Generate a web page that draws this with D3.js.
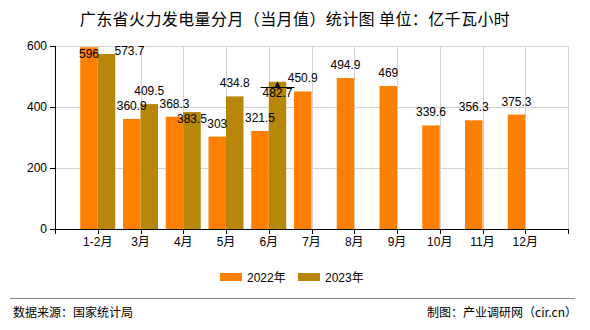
<!DOCTYPE html>
<html><head><meta charset="utf-8">
<script src="https://cdn.jsdelivr.net/npm/d3@7"></script>
<style>body{margin:0;background:#fff}svg{display:block}</style>
</head><body>
<script>
const categories = ["1-2月","3月","4月","5月","6月","7月","8月","9月","10月","11月","12月"];
const series2022 = [596,360.9,368.3,303,321.5,450.9,494.9,469,339.6,356.3,375.3];
const series2023 = [573.7,409.5,383.5,434.8,482.7,null,null,null,null,null,null];
const yTicks = [0,200,400,600];
const seriesNames = ["2022年","2023年"];
const colors = ["#FF8000","#B8860B"];

// label placement tweaks (style, not data), keyed "categoryIndex-seriesIndex": [dx, dy]
const labelShift = {
  "0-0":[0,20], "0-1":[23,10], "2-1":[0,20], "4-1":[0,24]
};

const W=590,H=330, L=55, R=568, T=46, B=229;
const svg = d3.select("body").append("svg").attr("width",W).attr("height",H)
  .style("font-family","'Liberation Sans',Arial,'Noto Sans CJK SC',sans-serif");

const x = d3.scaleLinear().domain([0,categories.length+1]).range([L,R]);
const y = d3.scaleLinear().domain([0,600]).range([B,T]);
const bw = 17.5;

// title
svg.append("text").attr("x",295).attr("y",25).attr("text-anchor","middle")
  .style("font-family","'Noto Sans CJK SC',sans-serif").style("font-size","16px")
  .style("letter-spacing","0.4px").attr("fill","#000")
  .text("广东省火力发电量分月（当月值）统计图 单位：亿千瓦小时");

// grid
const g = svg.append("g");
g.selectAll(".hg").data(yTicks.filter(d=>d>0)).join("line")
  .attr("x1",L).attr("x2",R).attr("y1",d=>Math.round(y(d))+0.5).attr("y2",d=>Math.round(y(d))+0.5)
  .attr("stroke","#d3d3d3").attr("stroke-width",1);
const vpos = d3.range(1,categories.length+2);
g.selectAll(".vg").data(vpos).join("line")
  .attr("x1",d=>Math.round(x(d))+0.5).attr("x2",d=>Math.round(x(d))+0.5).attr("y1",T).attr("y2",B)
  .attr("stroke","#d3d3d3").attr("stroke-width",1);

// bars
const data = categories.map((c,i)=>({c,i,v:[series2022[i],series2023[i]]}));
[0,1].forEach(s=>{
  svg.append("g").selectAll("rect").data(data.filter(d=>d.v[s]!=null)).join("rect")
    .attr("x",d=>s===0? x(d.i+1)-bw : x(d.i+1))
    .attr("width",bw)
    .attr("y",d=>y(Math.min(d.v[s],600)))
    .attr("height",d=>B-y(Math.min(d.v[s],600)))
    .attr("fill",colors[s]);
});

// axes
const ax = svg.append("g").attr("stroke","#000").attr("shape-rendering","crispEdges");
ax.append("line").attr("x1",L).attr("x2",R).attr("y1",B+0.5).attr("y2",B+0.5);
ax.append("line").attr("x1",L+0.5).attr("x2",L+0.5).attr("y1",T).attr("y2",B+5);
ax.selectAll(".yt").data(yTicks).join("line")
  .attr("x1",L-5).attr("x2",L).attr("y1",d=>Math.round(y(d))+0.5).attr("y2",d=>Math.round(y(d))+0.5);
ax.selectAll(".xt").data(vpos).join("line")
  .attr("x1",d=>Math.round(x(d))+0.5).attr("x2",d=>Math.round(x(d))+0.5).attr("y1",B).attr("y2",B+5);

svg.append("g").selectAll("text").data(yTicks).join("text")
  .attr("x",L-8).attr("y",d=>y(d)+4).attr("text-anchor","end")
  .style("font-size","12px").attr("fill","#000").text(d=>d);

svg.append("g").selectAll("text").data(categories).join("text")
  .attr("x",(d,i)=>x(i+1)).attr("y",246).attr("text-anchor","middle")
  .style("font-size","12px").attr("fill","#000").text(d=>d);

// value labels
const labels=[];
data.forEach(d=>[0,1].forEach(s=>{ if(d.v[s]!=null) labels.push({i:d.i,s,v:d.v[s]}); }));
svg.append("g").selectAll("text").data(labels).join("text")
  .attr("x",d=>{const sh=labelShift[d.i+"-"+d.s]||[0,0]; return x(d.i+1)+(d.s===0?-bw/2:bw/2)+sh[0];})
  .attr("y",d=>{const sh=labelShift[d.i+"-"+d.s]||[0,0]; return y(d.v)-9+sh[1];})
  .attr("text-anchor","middle").style("font-size","12px").attr("fill","#000")
  .text(d=>d.v);

// small marker on 2023 6月 bar
const mi=4, mv=series2023[mi];
const mx = x(mi+1)+bw/2, my = Math.round(y(mv)+5)+0.5;
svg.append("line").attr("x1",mx-17).attr("x2",mx+17).attr("y1",my).attr("y2",my)
  .attr("stroke","#000").attr("stroke-width",1);
svg.append("path").attr("d",`M${mx-3},${my}L${mx},${my-6}L${mx+3},${my}Z`).attr("fill","#000");

// legend
const lg = svg.append("g");
seriesNames.forEach((n,k)=>{
  const lx = 220 + k*78;
  lg.append("rect").attr("x",lx).attr("y",273).attr("width",22).attr("height",8).attr("fill",colors[k]);
  lg.append("text").attr("x",lx+27).attr("y",282).style("font-size","12px").attr("fill","#000").text(n);
});

// footer
svg.append("line").attr("x1",10).attr("x2",575).attr("y1",298.5).attr("y2",298.5)
  .attr("stroke","#888").attr("stroke-width",1);
svg.append("text").attr("x",13).attr("y",317).style("font-size","12px")
  .style("font-family","'Noto Sans CJK SC',sans-serif").attr("fill","#000").text("数据来源：国家统计局");
svg.append("text").attr("x",577).attr("y",317).attr("text-anchor","end").style("font-size","12px")
  .style("font-family","'Noto Sans CJK SC',sans-serif").attr("fill","#000").text("制图：产业调研网（cir.cn）");
</script>
</body></html>
